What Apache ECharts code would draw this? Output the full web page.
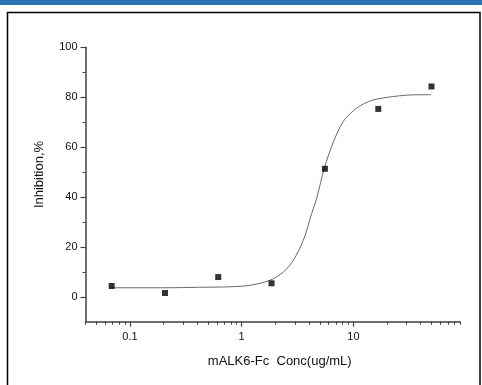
<!DOCTYPE html>
<html>
<head>
<meta charset="utf-8">
<script src="https://cdn.jsdelivr.net/npm/echarts@6/dist/echarts.min.js"></script>
<style>
html,body{margin:0;padding:0;background:#fff;}
#chart{width:482px;height:385px;}
</style>
</head>
<body>
<div id="chart"></div>
<script>
// Measured points: concentration (ug/mL) and inhibition (%)
var concValues = [0.0686, 0.206, 0.617, 1.85, 5.56, 16.7, 50];
var inhibitionValues = [4.3, 1.5, 7.9, 5.4, 51.3, 75.3, 84.3];

// Fitted curve
var curveConc = [0.0686, 0.2, 0.42, 0.785, 1.19, 1.79, 2.36, 2.9, 3.56, 4.23, 4.69, 5.49, 6.61, 8.12, 10, 12.3, 15.1, 19.9, 25.2, 32.1, 49.4];
var curveInhibition = [3.6, 3.6, 3.8, 4.0, 4.6, 6.6, 9.9, 14.6, 22.6, 33.3, 39.5, 51.5, 62.0, 70.3, 74.6, 77.3, 78.9, 79.9, 80.5, 80.9, 81.0];

// Axis ticks
var xMajorTicks = [0.1, 1, 10];
var xMinorTicks = [0.04, 0.05, 0.06, 0.07, 0.08, 0.09, 0.2, 0.3, 0.4, 0.5, 0.6, 0.7, 0.8, 0.9, 2, 3, 4, 5, 6, 7, 8, 9, 20, 30, 40, 50, 60, 70, 80, 90];
var yMajorTicks = [0, 20, 40, 60, 80, 100];
var yMinorTicks = [10, 30, 50, 70, 90];
var xMin = 0.04, xMax = 90, yMin = -10, yMax = 100;

var L = Math.log10;
function lg(arr){ return arr.map(function(v){ return L(v); }); }

var chart = echarts.init(document.getElementById('chart'), null, {renderer:'canvas'});
var font = 'Liberation Sans, Arial, sans-serif';
var axisColor = '#404040';

var option = {
  animation: false,
  backgroundColor: '#fff',
  graphic: [
    {type:'rect', shape:{x:0, y:0, width:482, height:5}, style:{fill:'#2E74B5'}, silent:true},
    {type:'rect', shape:{x:7.5, y:12.5, width:472.5, height:400}, style:{fill:'none', stroke:'#000', lineWidth:1.5}, silent:true}
  ],
  grid: {left: 85.5, right: 22, top: 47.3, bottom: 63.3},
  xAxis: [
    {
      type: 'value', min: L(xMin), max: L(xMax),
      name: 'mALK6-Fc  Conc(ug/mL)', nameLocation: 'middle', nameGap: 33,
      nameTextStyle: {fontFamily: font, fontSize: 13, color: '#111', padding:[0,0,0,14]},
      axisLine: {show: true, onZero: false, lineStyle: {color: axisColor, width: 1.5}},
      axisTick: {show: true, inside: false, length: 5, lineStyle:{color: axisColor, width:1.2}, customValues: lg(xMajorTicks)},
      axisLabel: {show: true, margin: 10, fontFamily: font, fontSize: 11, color: '#111',
        customValues: lg(xMajorTicks),
        formatter: function(v){ var p = Math.round(v); return String(+Math.pow(10,p).toPrecision(6)); }},
      splitLine: {show: false}
    },
    {
      type: 'value', min: L(xMin), max: L(xMax), position: 'bottom',
      axisLine: {show: false, onZero: false},
      axisTick: {show: true, inside: false, length: 3, lineStyle:{color: axisColor, width:1}, customValues: lg(xMinorTicks)},
      axisLabel: {show: false},
      splitLine: {show: false}
    }
  ],
  yAxis: [
    {
      type: 'value', min: yMin, max: yMax,
      name: 'Inhibition,%', nameLocation: 'middle', nameGap: 40, nameRotate: 90,
      nameTextStyle: {fontFamily: font, fontSize: 13, color: '#111', padding:[0,0,0,20]},
      axisLine: {show: true, onZero: false, lineStyle: {color: axisColor, width: 1.5}},
      axisTick: {show: true, inside: false, length: 5, lineStyle:{color: axisColor, width:1.2}, customValues: yMajorTicks},
      axisLabel: {show: true, margin: 8, fontFamily: font, fontSize: 11, color: '#111', customValues: yMajorTicks},
      splitLine: {show: false}
    },
    {
      type: 'value', min: yMin, max: yMax, position: 'left',
      axisLine: {show: false, onZero: false},
      axisTick: {show: true, inside: false, length: 3, lineStyle:{color: axisColor, width:1}, customValues: yMinorTicks},
      axisLabel: {show: false},
      splitLine: {show: false}
    }
  ],
  series: [
    {
      type: 'line', xAxisIndex: 0, yAxisIndex: 0,
      data: curveConc.map(function(c, i){ return [L(c), curveInhibition[i]]; }),
      smooth: 0.3, showSymbol: false, symbol: 'none',
      lineStyle: {color: '#6a6a6a', width: 1}, z: 2
    },
    {
      type: 'scatter', xAxisIndex: 0, yAxisIndex: 0,
      data: concValues.map(function(c, i){ return [L(c), inhibitionValues[i]]; }),
      symbol: 'rect', symbolSize: 6,
      itemStyle: {color: '#000'}, z: 3
    }
  ]
};
chart.setOption(option);
</script>
</body>
</html>
